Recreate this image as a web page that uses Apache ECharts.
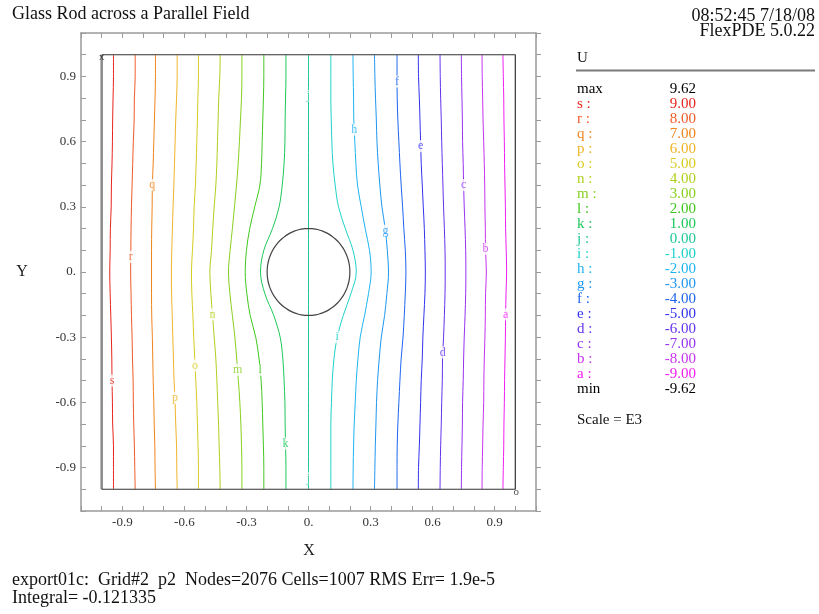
<!DOCTYPE html>
<html>
<head>
<meta charset="utf-8">
<title>Glass Rod across a Parallel Field</title>
<script src="https://cdn.jsdelivr.net/npm/echarts@6/dist/echarts.min.js"></script>
<style>
  html, body { margin: 0; padding: 0; background: #fff; }
  #chart { width: 819px; height: 614px; }
</style>
</head>
<body>
<div id="chart"></div>
<script>
// Heights at which each contour's x position is listed (top to bottom)
const yLevels = [1.0, 0.9, 0.8, 0.7, 0.6, 0.5, 0.4, 0.3, 0.2, 0.1, 0.0,
                 -0.1, -0.2, -0.3, -0.4, -0.5, -0.6, -0.7, -0.8, -0.9, -1.0];

// Contour names, levels (U, scale E3) and colours
const levelNames  = ['s', 'r', 'q', 'p', 'o', 'n', 'm', 'l', 'k', 'j', 'i', 'h', 'g', 'f', 'e', 'd', 'c', 'b', 'a'];
const levelValues = [9, 8, 7, 6, 5, 4, 3, 2, 1, 0, -1, -2, -3, -4, -5, -6, -7, -8, -9];
const levelColors = ['#e8241c', '#f05a28', '#f0841c', '#f0b428', '#d8cc20', '#b0d01e', '#88d01e',
                     '#40c81e', '#1ec85a', '#1ec896', '#1ed2c8', '#1eb4f0', '#1e96f0', '#1e64f0',
                     '#3232f0', '#6432f0', '#9632f0', '#c832f0', '#f01ef0'];
const uMax = 9.62;
const uMin = -9.62;

// x position of each contour at every entry of yLevels
const lineS = [-0.943,-0.943,-0.945,-0.947,-0.948,-0.950,-0.953,-0.954,-0.958,-0.959,-0.961,-0.959,-0.956,-0.953,-0.951,-0.950,-0.948,-0.947,-0.943,-0.943,-0.943];
const lineR = [-0.838,-0.838,-0.842,-0.843,-0.847,-0.850,-0.853,-0.856,-0.858,-0.859,-0.860,-0.858,-0.856,-0.853,-0.851,-0.848,-0.847,-0.845,-0.842,-0.840,-0.838];
const lineQ = [-0.740,-0.740,-0.742,-0.745,-0.748,-0.751,-0.755,-0.756,-0.758,-0.759,-0.759,-0.759,-0.758,-0.755,-0.753,-0.751,-0.748,-0.746,-0.743,-0.742,-0.740];
const lineP = [-0.635,-0.635,-0.638,-0.642,-0.645,-0.648,-0.651,-0.655,-0.658,-0.661,-0.663,-0.662,-0.659,-0.656,-0.653,-0.650,-0.645,-0.642,-0.638,-0.637,-0.635];
const lineO = [-0.532,-0.532,-0.535,-0.537,-0.540,-0.543,-0.547,-0.553,-0.556,-0.561,-0.566,-0.564,-0.559,-0.555,-0.550,-0.545,-0.540,-0.537,-0.534,-0.532,-0.532];
const lineN = [-0.427,-0.429,-0.434,-0.437,-0.440,-0.443,-0.448,-0.456,-0.463,-0.469,-0.477,-0.472,-0.464,-0.456,-0.448,-0.443,-0.439,-0.435,-0.432,-0.429,-0.427];
const lineM = [-0.322,-0.322,-0.324,-0.329,-0.334,-0.340,-0.348,-0.358,-0.368,-0.379,-0.387,-0.380,-0.368,-0.356,-0.347,-0.339,-0.332,-0.327,-0.324,-0.322,-0.322];
const lineL = [-0.216,-0.216,-0.218,-0.221,-0.224,-0.227,-0.235,-0.260,-0.284,-0.300,-0.306,-0.298,-0.282,-0.255,-0.239,-0.229,-0.224,-0.221,-0.218,-0.216,-0.216];
const lineK = [-0.109,-0.109,-0.111,-0.113,-0.114,-0.118,-0.127,-0.142,-0.174,-0.216,-0.232,-0.211,-0.168,-0.137,-0.124,-0.118,-0.114,-0.113,-0.111,-0.109,-0.109];
const lineJ = [0,0,0,0,0,0,0,0,0,0,0,0,0,0,0,0,0,0,0,0,0];
const lineI = [0.108,0.108,0.108,0.110,0.113,0.118,0.129,0.145,0.178,0.215,0.231,0.205,0.168,0.139,0.123,0.115,0.111,0.108,0.108,0.108,0.108];
const lineH = [0.215,0.216,0.218,0.219,0.224,0.229,0.237,0.255,0.274,0.295,0.303,0.290,0.271,0.250,0.239,0.231,0.226,0.221,0.218,0.216,0.215];
const lineG = [0.319,0.321,0.324,0.328,0.331,0.337,0.345,0.355,0.371,0.381,0.387,0.379,0.368,0.352,0.342,0.334,0.329,0.326,0.323,0.321,0.319];
const lineF = [0.428,0.428,0.429,0.432,0.437,0.442,0.448,0.455,0.461,0.468,0.471,0.468,0.463,0.457,0.448,0.442,0.437,0.432,0.429,0.428,0.428];
const lineE = [0.531,0.532,0.536,0.539,0.542,0.545,0.550,0.555,0.560,0.563,0.565,0.563,0.558,0.553,0.550,0.545,0.542,0.539,0.536,0.532,0.531];
const lineD = [0.636,0.637,0.639,0.642,0.644,0.647,0.650,0.653,0.657,0.660,0.661,0.660,0.657,0.653,0.648,0.647,0.644,0.642,0.639,0.637,0.636];
const lineC = [0.739,0.740,0.742,0.744,0.745,0.748,0.750,0.753,0.757,0.760,0.761,0.760,0.757,0.753,0.750,0.748,0.745,0.744,0.742,0.740,0.739];
const lineB = [0.839,0.840,0.842,0.844,0.847,0.850,0.852,0.853,0.855,0.856,0.860,0.856,0.855,0.853,0.850,0.848,0.847,0.844,0.842,0.840,0.839];
const lineA = [0.940,0.942,0.944,0.945,0.947,0.948,0.950,0.952,0.953,0.956,0.958,0.955,0.953,0.952,0.950,0.948,0.947,0.945,0.944,0.942,0.940];

const contourLines = [lineS, lineR, lineQ, lineP, lineO, lineN, lineM, lineL, lineK, lineJ,
                      lineI, lineH, lineG, lineF, lineE, lineD, lineC, lineB, lineA];

// Heights where the letter of each contour is written on it
const labelHeights = [[-0.50], [0.07], [0.40], [-0.58], [-0.43], [-0.195], [-0.45], [-0.45], [-0.79], [0.81, -0.95],
                      [-0.30], [0.655], [0.19], [0.877], [0.58], [-0.37], [0.40], [0.107], [-0.195]];

// Problem domain and rod
const domainX = [-1, 1];
const domainY = [-1, 1];
const rodRadius = 0.2;

// Axis extent and tick spacing
const axisMin = -1.1;
const axisMax = 1.1;
const tickStep = 0.1;

const SERIF = "'Liberation Serif', 'Times New Roman', serif";
const AXIS_GREY = '#9a9a9a';

// x position of a contour at height y (linear along the listed points)
function xAt(xs, y) {
  for (let i = 0; i < yLevels.length - 1; i++) {
    const y0 = yLevels[i], y1 = yLevels[i + 1];
    if (y <= y0 && y >= y1) {
      const t = (y0 - y) / (y0 - y1);
      return xs[i] + t * (xs[i + 1] - xs[i]);
    }
  }
  return xs[0];
}

function tickLabel(v) {
  const k = Math.round(v * 10);
  if (k % 3 !== 0 || Math.abs(k) > 9) return '';
  if (k === 0) return '0.';
  return (k / 10).toFixed(1);
}

const series = [];

// Contour lines
contourLines.forEach(function (xs, idx) {
  series.push({
    type: 'line',
    name: levelNames[idx],
    data: yLevels.map(function (y, i) { return [xs[i], y]; }),
    smooth: 0.35,
    showSymbol: false,
    symbol: 'none',
    lineStyle: { color: levelColors[idx], width: 1 },
    z: 3,
    silent: true
  });
});

// Domain boundary: left side drawn grey and heavier
series.push({
  type: 'line',
  data: [[domainX[0], domainY[0]], [domainX[0], domainY[1]]],
  symbol: 'none',
  lineStyle: { color: '#8a8a8a', width: 2.5 },
  z: 4,
  silent: true
});
series.push({
  type: 'line',
  data: [[domainX[0], domainY[1]], [domainX[1], domainY[1]], [domainX[1], domainY[0]], [domainX[0], domainY[0]]],
  symbol: 'none',
  lineStyle: { color: '#333333', width: 1.2 },
  z: 4,
  silent: true
});

// Rod outline
series.push({
  type: 'custom',
  coordinateSystem: 'cartesian2d',
  data: [[0, 0]],
  renderItem: function (params, api) {
    const pts = [];
    for (let a = 0; a <= 360; a += 5) {
      const t = a * Math.PI / 180;
      pts.push(api.coord([api.value(0) + rodRadius * Math.cos(t), api.value(1) + rodRadius * Math.sin(t)]));
    }
    return {
      type: 'polyline',
      shape: { points: pts, smooth: 0.3 },
      style: { stroke: '#444444', lineWidth: 1.2, fill: null }
    };
  },
  z: 5,
  silent: true
});

// Contour letters written on the lines
const letterData = [];
labelHeights.forEach(function (hs, idx) {
  hs.forEach(function (h) {
    letterData.push({
      value: [xAt(contourLines[idx], h), h],
      label: { formatter: levelNames[idx], color: levelColors[idx] }
    });
  });
});
series.push({
  type: 'scatter',
  data: letterData,
  symbolSize: 1,
  itemStyle: { color: 'rgba(0,0,0,0)' },
  label: {
    show: true,
    position: 'inside',
    fontFamily: SERIF,
    fontSize: 12,
    backgroundColor: '#ffffff',
    padding: [0, 1, 0, 1]
  },
  z: 6,
  silent: true
});

// Domain corner markers
series.push({
  type: 'scatter',
  data: [
    { value: [domainX[0], domainY[1]], label: { formatter: 'x', offset: [0, 2] } },
    { value: [domainX[1], domainY[0]], label: { formatter: 'o', offset: [1, 3] } }
  ],
  symbolSize: 1,
  itemStyle: { color: 'rgba(0,0,0,0)' },
  label: { show: true, position: 'inside', fontFamily: SERIF, fontSize: 11, color: '#222' },
  z: 7,
  silent: true
});

// Legend text on the right
const graphics = [];
const legendX = 577, valueRight = 696, rowTop = 89, rowStep = 15;
function legendRow(row, name, value, color) {
  const y = rowTop + row * rowStep;
  graphics.push({ type: 'text', x: legendX, y: y,
    style: { text: name, font: '15px ' + SERIF, fill: color, align: 'left', verticalAlign: 'middle' } });
  graphics.push({ type: 'text', x: valueRight, y: y,
    style: { text: value, font: '15px ' + SERIF, fill: color, align: 'right', verticalAlign: 'middle' } });
}
legendRow(0, 'max', uMax.toFixed(2), '#000');
levelNames.forEach(function (n, i) {
  legendRow(i + 1, n + ' :', levelValues[i].toFixed(2), levelColors[i]);
});
legendRow(levelNames.length + 1, 'min', uMin.toFixed(2), '#000');

function textAt(x, y, text, size, align, color) {
  graphics.push({ type: 'text', x: x, y: y,
    style: { text: text, font: size + 'px ' + SERIF, fill: color || '#111', align: align, verticalAlign: 'middle' } });
}
textAt(12, 14, 'Glass Rod across a Parallel Field', 18, 'left');
textAt(815, 16, '08:52:45 7/18/08', 18, 'right');
textAt(815, 31, 'FlexPDE 5.0.22', 18, 'right');
textAt(577, 58, 'U', 15, 'left');
textAt(577, 420, 'Scale = E3', 15, 'left');
textAt(309, 551, 'X', 16, 'center', '#222');
textAt(22, 272, 'Y', 16, 'center', '#222');
textAt(12, 580, 'export01c:  Grid#2  p2  Nodes=2076 Cells=1007 RMS Err= 1.9e-5', 18, 'left');
textAt(12, 598, 'Integral= -0.121335', 18, 'left');
graphics.push({ type: 'line', shape: { x1: 576, y1: 70.5, x2: 815, y2: 70.5 }, style: { stroke: '#7a7a7a', lineWidth: 2 } });

function valueAxis(pos, showLabels, tickInside) {
  return {
    type: 'value',
    position: pos,
    min: axisMin,
    max: axisMax,
    interval: tickStep,
    axisLine: { show: true, onZero: false, lineStyle: { color: AXIS_GREY, width: 1.5 } },
    axisTick: { show: true, inside: tickInside, length: 5, lineStyle: { color: AXIS_GREY, width: 1 } },
    axisLabel: {
      show: showLabels,
      formatter: tickLabel,
      fontFamily: SERIF,
      fontSize: 13,
      color: '#333',
      margin: 5,
      showMinLabel: true,
      showMaxLabel: true,
      hideOverlap: false
    },
    splitLine: { show: false }
  };
}

const chart = echarts.init(document.getElementById('chart'), null, { renderer: 'canvas' });
chart.setOption({
  animation: false,
  backgroundColor: '#ffffff',
  grid: { left: 81, top: 33, width: 455, height: 478, containLabel: false },
  xAxis: [valueAxis('bottom', true, true), valueAxis('top', false, true)],
  yAxis: [valueAxis('left', true, true), valueAxis('right', false, false)],
  graphic: graphics,
  series: series
});
</script>
</body>
</html>
